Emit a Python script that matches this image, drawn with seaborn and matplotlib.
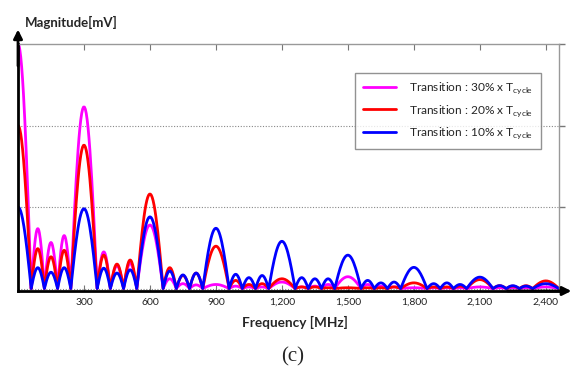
import numpy as np
import pandas as pd
import matplotlib
matplotlib.use("Agg")
import matplotlib.pyplot as plt
import seaborn as sns

# zero crossings of the spectrum (MHz): each lobe runs between two neighbours
lobe_edges = [0, 60, 120, 180, 240, 360, 420, 480, 540, 660, 720, 780, 840,
              960, 1020, 1080, 1140, 1260, 1320, 1380, 1440, 1560, 1620, 1680,
              1740, 1860, 1920, 1980, 2040, 2160, 2220, 2280, 2340, 2460]

# lobe peak heights (one grid step = 1)
mag_30 = [3.0, 0.735, 0.565, 0.65, 2.23, 0.45, 0.28, 0.31, 0.78,
          0.12, 0.06, 0.045, 0.05, 0.03, 0.02, 0.02, 0.08,
          0.02, 0.03, 0.05, 0.145, 0.05, 0.03, 0.02, 0.01,
          0.01, 0.01, 0.01, 0.02, 0.01, 0.01, 0.01, 0.02]
mag_20 = [2.0, 0.49, 0.39, 0.47, 1.76, 0.41, 0.30, 0.35, 1.16,
          0.256, 0.16, 0.19, 0.52, 0.10, 0.05, 0.06, 0.12,
          0.02, 0.02, 0.01, 0.01, 0.01, 0.01, 0.02, 0.07,
          0.02, 0.02, 0.03, 0.11, 0.035, 0.03, 0.035, 0.094]
mag_10 = [1.0, 0.256, 0.20, 0.256, 0.98, 0.25, 0.19, 0.23, 0.88,
          0.215, 0.167, 0.19, 0.74, 0.175, 0.134, 0.16, 0.58,
          0.134, 0.12, 0.12, 0.41, 0.10, 0.07, 0.08, 0.26,
          0.06, 0.07, 0.05, 0.14, 0.036, 0.035, 0.03, 0.06]

series_names = ["Transition : 30% x T$_{\\mathregular{cycle}}$",
                "Transition : 20% x T$_{\\mathregular{cycle}}$",
                "Transition : 10% x T$_{\\mathregular{cycle}}$"]
series_colors = ["#ff00ff", "#ff0000", "#0000ff"]

x_ticks = [300, 600, 900, 1200, 1500, 1800, 2100, 2400]
x_tick_labels = ["300", "600", "900", "1,200", "1,500", "1,800", "2,100", "2,400"]


def lobe_curve(peaks):
    xs, ys = [], []
    for i, p in enumerate(peaks):
        a, b = lobe_edges[i], lobe_edges[i + 1]
        t = np.linspace(0, 1, 30)
        if i == 0:
            shape = np.cos(np.pi / 2 * t)   # main lobe starts at its peak
        else:
            shape = np.sin(np.pi * t)
        xs.extend(a + (b - a) * t)
        ys.extend(p * shape)
    return xs, ys


rows = []
for name, peaks in zip(series_names, [mag_30, mag_20, mag_10]):
    xs, ys = lobe_curve(peaks)
    rows.append(pd.DataFrame({"freq": xs, "mag": ys, "series": name}))
df = pd.concat(rows, ignore_index=True)

sns.set_style("white")
plt.rcParams["font.family"] = ["Lato", "DejaVu Sans"]

fig = plt.figure(figsize=(5.77, 3.75), dpi=100)
ax = fig.add_axes([18 / 577, 1 - 291 / 375, 541 / 577, 247 / 375])

sns.lineplot(data=df, x="freq", y="mag", hue="series", palette=series_colors,
             estimator=None, sort=False, linewidth=2.0, ax=ax)

ax.set_xlim(0, 2460)
ax.set_ylim(-0.03, 3.0)
ax.set_xticks(x_ticks)
ax.set_xticklabels(x_tick_labels, fontsize=7.5, color="#222222")
ax.set_yticks([0, 1, 2, 3])
ax.set_yticklabels([])
ax.set_xlabel("")
ax.set_ylabel("")
for yv in [0, 1, 2]:
    ax.axhline(yv, color="#888888", lw=0.8, ls=(0, (1, 1.5)), zorder=0)

ax.tick_params(axis="x", which="both", bottom=True, top=True, direction="in",
               length=4, width=0.8, color="#777777", pad=5)
ax.tick_params(axis="y", left=False, right=True, direction="out",
               length=4, width=1, color="#777777")

for side in ["top", "right"]:
    ax.spines[side].set_color("#999999")
    ax.spines[side].set_linewidth(1)
for side in ["left", "bottom"]:
    ax.spines[side].set_color("black")
    ax.spines[side].set_linewidth(2)

ax.annotate("", xy=(0, 1.07), xytext=(0, 0.9), xycoords="axes fraction",
            arrowprops=dict(arrowstyle="-|>", color="black", lw=2, mutation_scale=13),
            annotation_clip=False)
ax.annotate("", xy=(1.028, 0), xytext=(0.9, 0), xycoords="axes fraction",
            arrowprops=dict(arrowstyle="-|>", color="black", lw=2, mutation_scale=13),
            annotation_clip=False)

leg = ax.legend(loc="upper left", bbox_to_anchor=(355 / 577, 1 - 73 / 375),
                bbox_transform=fig.transFigure, borderaxespad=0, fontsize=8.6,
                frameon=True, fancybox=False, shadow=False, handlelength=2.8,
                handletextpad=1.1, borderpad=0.65, labelspacing=0.55)
leg.get_frame().set_edgecolor("#777777")
leg.get_frame().set_linewidth(1)
for line in leg.get_lines():
    line.set_linewidth(2)

fig.text(25 / 577, 1 - 22 / 375, "Magnitude[mV]", fontsize=9.5, fontweight="bold",
         ha="left", va="center")
fig.text(295 / 577, 1 - 322 / 375, "Frequency [MHz]", fontsize=9.8, fontweight="bold",
         ha="center", va="center")
fig.text(293 / 577, 1 - 357 / 375, "(c)", fontsize=15, family="Liberation Serif",
         ha="center", va="center")

fig.savefig("out.png", dpi=100)
